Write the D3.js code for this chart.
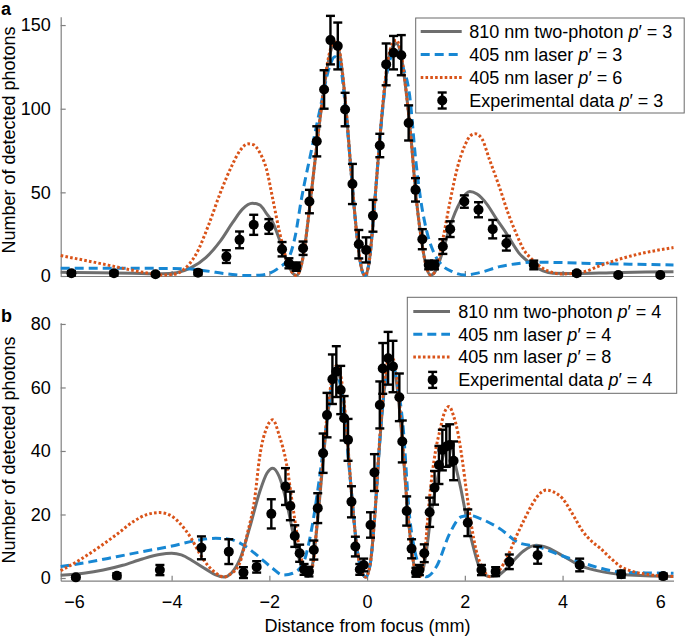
<!DOCTYPE html>
<html><head><meta charset="utf-8">
<script src="https://cdn.jsdelivr.net/npm/d3@7"></script>
<style>body{margin:0;background:#fff} text{font-family:"Liberation Sans",Arial,Helvetica,sans-serif;fill:#000}</style>
</head><body><svg id="c" width="685" height="637"></svg>
<script>
const xTicks=[-6,-4,-2,0,2,4,6];
const yTicksA=[0,50,100,150];
const yTicksB=[0,20,40,60,80];

// Panel a curves [distance, photons]
const a810=[[-6.27,2.2],[-5.5,2.0],[-4.8,1.6],[-4.2,1.3],[-3.9,2],[-3.6,5],[-3.3,11],[-3.0,21],[-2.75,32],[-2.55,40],[-2.35,43.5],[-2.2,42.5],[-2.05,37],[-1.93,32],[-1.79,21.5],[-1.65,9.6],[-1.52,1.6],[-1.45,0.3],[-1.38,3],[-1.3,13],[-1.18,40],[-1.03,78],[-0.9,108],[-0.78,130],[-0.67,139],[-0.57,134],[-0.45,106],[-0.32,60],[-0.2,22],[-0.1,3],[-0.04,0.3],[0.05,10],[0.15,42],[0.27,85],[0.4,122],[0.52,137],[0.6,139],[0.7,131],[0.8,110],[0.9,82],[1.0,48],[1.1,24],[1.2,7],[1.3,0.5],[1.4,3],[1.55,15],[1.7,30],[1.9,44],[2.1,50.5],[2.25,49],[2.45,43],[2.65,34],[2.85,25.5],[3.1,14],[3.39,6.6],[3.6,3],[3.8,1.6],[4.3,1.5],[5,2],[5.7,2.4],[6.27,2.6]];
const a405p3=[[-6.27,4.6],[-5,4.6],[-4,4.5],[-3.7,4.3],[-3.4,3.5],[-3.1,2.2],[-2.8,1],[-2.5,0.3],[-2.2,0.5],[-2.0,1.6],[-1.8,5],[-1.6,11],[-1.47,24],[-1.35,45],[-1.14,75],[-0.94,103],[-0.78,124],[-0.66,131],[-0.55,126],[-0.45,103],[-0.32,60],[-0.2,22],[-0.1,3],[-0.04,0.3],[0.05,10],[0.15,42],[0.27,85],[0.4,120],[0.52,133],[0.6,135],[0.72,126],[0.87,108],[1.0,68],[1.1,45],[1.21,28],[1.38,13],[1.55,6],[1.75,2.5],[2.0,0.6],[2.3,2],[2.71,5.6],[3.1,7.5],[3.39,8.3],[4,8],[4.76,7.4],[5.5,7],[6.27,6.6]];
const a405p6=[[-6.27,12.2],[-5.8,9.5],[-5.3,6.5],[-4.9,4],[-4.5,1.8],[-4.2,0.6],[-3.95,1],[-3.75,4],[-3.5,13],[-3.25,30],[-3.0,50],[-2.75,67],[-2.6,75],[-2.44,79],[-2.33,78.5],[-2.2,74],[-2.06,64],[-1.93,46],[-1.79,26],[-1.65,10],[-1.52,1.6],[-1.45,0.3],[-1.38,3],[-1.3,13],[-1.18,40],[-1.03,78],[-0.9,109],[-0.78,132],[-0.67,140],[-0.57,135],[-0.45,106],[-0.32,60],[-0.2,22],[-0.1,3],[-0.04,0.3],[0.05,10],[0.15,42],[0.27,86],[0.4,124],[0.52,139],[0.6,141],[0.7,132],[0.8,110],[0.9,82],[1.0,48],[1.1,24],[1.2,7],[1.3,0.5],[1.4,3],[1.55,22],[1.7,45],[1.85,65],[2.0,78],[2.12,84],[2.22,85],[2.35,82],[2.5,70],[2.71,53],[2.88,38],[3.05,25.5],[3.2,16],[3.39,9.6],[3.6,4.5],[3.8,2],[4.0,1.2],[4.2,1.5],[4.48,2.8],[4.75,6],[5.1,9.5],[5.4,12],[5.78,14.5],[6.27,17]];
// Panel a experimental data
const aDist=[-6.05,-5.18,-4.33,-3.46,-2.88,-2.61,-2.32,-2.01,-1.74,-1.6,-1.45,-1.31,-1.18,-1.03,-0.88,-0.75,-0.6,-0.45,-0.3,-0.17,-0.02,0.12,0.26,0.39,0.54,0.7,0.85,0.99,1.13,1.26,1.38,1.55,1.7,1.99,2.28,2.57,2.85,3.41,4.29,5.14,6.0];
const aCount=[1.6,1.6,1.0,2,11.6,21.6,30.6,29.6,16,7.6,5.6,16.6,44.5,80.5,111.5,141,137.5,99.5,55,19,15.6,36,78,126.5,133.5,132,91.5,51.5,22,6.6,6.6,17.6,28,44.5,39.6,28,19.6,6.6,1.6,0.6,0.6];
const aErr=[1.3,1.3,1,1.4,3.8,5,6,4.4,4.3,3,2.5,4,7,9,11.5,14.5,14,10,12,8.5,7.5,9.5,7,12.5,10,12,10.5,7,6,2.6,2.6,4.4,4.7,3.7,4.5,5.5,4.4,2.6,1.3,0.8,0.8];

// Panel b curves
const b810=[[-6.27,0.9],[-5.8,1.5],[-5.4,2.5],[-5,4],[-4.6,6],[-4.25,7.4],[-4.0,7.8],[-3.8,7.3],[-3.55,5.2],[-3.3,2.8],[-3.1,1],[-2.93,0.3],[-2.78,1.5],[-2.6,6],[-2.4,16],[-2.2,27],[-2.05,33],[-1.93,34.6],[-1.8,32],[-1.65,24],[-1.5,13],[-1.38,5.5],[-1.28,1],[-1.2,0.5],[-1.12,4],[-1.02,17],[-0.9,37],[-0.8,52],[-0.7,62],[-0.62,65],[-0.52,60],[-0.42,46],[-0.32,27],[-0.22,11],[-0.12,2.5],[-0.03,0.3],[0.06,4],[0.15,18],[0.25,41],[0.35,59],[0.45,67],[0.53,67],[0.63,58],[0.72,43],[0.82,23],[0.92,8],[1.02,1],[1.1,1],[1.2,7],[1.3,19],[1.45,32],[1.6,40],[1.72,41.5],[1.8,36],[1.92,28],[2.03,19.3],[2.17,10],[2.31,3],[2.5,0.5],[2.65,0.6],[2.8,2.2],[3.0,5.5],[3.2,8.5],[3.46,10.3],[3.7,9.5],[4.0,7],[4.35,4],[4.8,2],[5.2,1.1],[5.7,0.7],[6.27,0.5]];
const b405p4=[[-6.27,3.6],[-5.7,5],[-5.13,6.7],[-4.6,8.3],[-4.04,9.9],[-3.43,12],[-3.1,12.5],[-2.88,12.4],[-2.6,11],[-2.4,9],[-2.2,6.5],[-1.93,3],[-1.72,0.9],[-1.52,1.5],[-1.31,4.6],[-1.14,15],[-0.97,32],[-0.83,48.7],[-0.72,61],[-0.65,64.5],[-0.55,61],[-0.45,48],[-0.32,27],[-0.22,11],[-0.12,2.5],[-0.03,0.3],[0.06,4],[0.15,18],[0.25,41],[0.35,59],[0.45,66],[0.53,66.5],[0.62,61],[0.73,48.7],[0.87,19.3],[0.97,9],[1.07,3.6],[1.21,0.4],[1.42,3.6],[1.69,14],[1.93,19.3],[2.1,19.7],[2.3,18.8],[2.71,15.6],[3.12,11],[3.49,9.9],[3.9,7.5],[4.35,5.1],[4.8,3],[5.2,1.8],[5.7,1.6],[6.27,1.5]];
const b405p8=[[-6.27,2.3],[-5.9,5.5],[-5.47,9.9],[-5.1,14],[-4.79,17.7],[-4.5,20],[-4.24,20.6],[-4.0,19.5],[-3.83,17.2],[-3.6,12.5],[-3.43,7.8],[-3.25,3.8],[-3.09,1.5],[-2.93,0.3],[-2.8,1.2],[-2.61,4.6],[-2.45,14],[-2.3,25],[-2.2,38],[-2.05,47.5],[-1.93,49.8],[-1.8,45],[-1.65,36],[-1.52,22.5],[-1.38,8.8],[-1.26,1.5],[-1.18,1],[-1.1,5],[-1.02,18],[-0.9,38],[-0.8,54],[-0.7,64],[-0.62,67],[-0.52,62],[-0.42,47],[-0.32,27],[-0.22,11],[-0.12,2.5],[-0.03,0.3],[0.06,4],[0.15,18],[0.25,42],[0.35,61],[0.45,69],[0.53,69],[0.63,60],[0.72,44],[0.82,23],[0.92,8],[1.0,1.5],[1.08,0.5],[1.18,8],[1.28,25.6],[1.4,40],[1.49,46.5],[1.58,52],[1.68,54],[1.77,51],[1.86,45.6],[1.95,37],[2.03,27.7],[2.13,17],[2.23,8.8],[2.37,3],[2.51,0.4],[2.71,2.5],[2.88,7],[3.05,13],[3.22,18.5],[3.39,23.5],[3.55,26.8],[3.67,27.7],[3.8,27.2],[4.0,25],[4.21,20],[4.4,15],[4.6,11.5],[4.76,9.5],[5.0,6],[5.17,3.8],[5.45,2],[5.8,1],[6.27,0.5]];
// Panel b experimental data
const bDist=[-5.96,-5.12,-4.24,-3.39,-2.83,-2.53,-2.26,-1.96,-1.67,-1.57,-1.48,-1.38,-1.29,-1.19,-1.09,-1.01,-0.90,-0.82,-0.71,-0.63,-0.54,-0.47,-0.39,-0.32,-0.24,-0.15,-0.07,0.07,0.15,0.26,0.32,0.43,0.53,0.66,0.72,0.81,0.91,1.00,1.07,1.17,1.28,1.38,1.47,1.54,1.62,1.69,1.77,2.06,2.34,2.63,2.91,3.49,4.35,5.20,6.06];
const bCount=[0.2,0.7,2.5,9.5,8.3,1.7,3.5,20.2,28.8,22.7,13.2,7.8,2.7,2.0,8.8,22,39.3,51.3,62.6,65,59.2,50.3,43.5,24,9.9,2.7,4.1,16.7,33.2,54.5,66,69.2,66.6,56.9,43,21.1,9.2,1.8,2.5,7.8,20.7,28.4,35.6,40.3,41.4,41.9,36.9,17.4,2.5,2,5.1,7.2,4.1,1.2,0.6];
const bErr=[0.5,0.8,1.6,3.6,3.9,1.7,1.8,4.6,5.8,4.5,3.4,2.7,1.7,1.5,3,4.7,6.2,7,7.8,8,7.6,7,6.6,4.9,3.1,1.7,2,4,5.8,7.4,8,8.3,8.1,7.5,6.6,4.6,3,1.4,1.6,2.8,4.6,5.3,6,6.4,6.4,6.5,6.1,4.2,1.6,1.4,2.3,2.7,2,1.1,0.8];

const legendNames=["810 nm two-photon ","405 nm laser ","405 nm laser ","Experimental data "];
const legendPA=[3,3,6,3];
const legendPB=[4,4,8,4];

const GRAY="#6e6e6e", BLUE="#1787d3", ORANGE="#d95319", AX="#808080";
const styles=[{c:GRAY,w:3,d:null},{c:BLUE,w:3,d:"9 5"},{c:ORANGE,w:3,d:"2.6 2.2"}];

const svg=d3.select("#c");
const x=d3.scaleLinear().domain([-6.27,6.27]).range([60.7,673.5]);
const yA=d3.scaleLinear().domain([0,155]).range([276,16.7]);
const yB=d3.scaleLinear().domain([-0.85,80.4]).range([580.7,322.7]);

function drawPanel(y, curves, dist, count, err, yTicks, showXLabels, leg, pvals){
  const g=svg.append("g");
  const ya=d3.axisLeft(y).tickValues(yTicks).tickSizeInner(-5).tickSizeOuter(0).tickPadding(10);
  const yg=g.append("g").attr("transform",`translate(${x.range()[0]},0)`).call(ya);
  const xa=d3.axisBottom(x).tickValues(xTicks).tickSizeInner(-5).tickSizeOuter(0).tickPadding(14.5)
    .tickFormat(showXLabels? (d=>d<0?"\u2212"+Math.abs(d):String(d)) : ()=>"");
  const xg=g.append("g").attr("transform",`translate(0,${y.range()[0]})`).call(xa);
  [yg,xg].forEach(a=>{
    a.select(".domain").attr("stroke",AX).attr("stroke-width",1.2);
    a.selectAll(".tick line").attr("stroke",AX).attr("stroke-width",1.2);
    a.selectAll(".tick text").attr("font-size",18).attr("fill","#000")
      .style("font-family",'"Liberation Sans",Arial,sans-serif');
  });
  const line=d3.line().x(d=>x(d[0])).y(d=>y(d[1])).curve(d3.curveMonotoneX);
  curves.forEach((pts,i)=>{
    const s=styles[i];
    g.append("path").attr("d",line(pts)).attr("fill","none").attr("stroke",s.c)
      .attr("stroke-width",s.w).attr("stroke-dasharray",s.d);
  });
  const dg=g.append("g");
  dist.forEach((d,i)=>{
    const cx=x(d), y1=y(count[i]-err[i]), y2=y(count[i]+err[i]);
    dg.append("line").attr("x1",cx).attr("x2",cx).attr("y1",y1).attr("y2",y2).attr("stroke","#000").attr("stroke-width",2.4);
    [y1,y2].forEach(yy=>dg.append("line").attr("x1",cx-4.5).attr("x2",cx+4.5).attr("y1",yy).attr("y2",yy).attr("stroke","#000").attr("stroke-width",2.4));
    dg.append("circle").attr("cx",cx).attr("cy",y(count[i])).attr("r",5).attr("fill","#000");
  });
  const lg=g.append("g");
  lg.append("rect").attr("x",leg.x).attr("y",leg.y).attr("width",leg.w).attr("height",leg.h)
    .attr("fill","#fff").attr("stroke","#6a6a6a").attr("stroke-width",1);
  legendNames.forEach((name,i)=>{
    const cy=leg.y0+i*leg.dy;
    if(i<3){
      const s=styles[i];
      lg.append("line").attr("x1",leg.l1).attr("x2",leg.l2).attr("y1",cy).attr("y2",cy)
        .attr("stroke",s.c).attr("stroke-width",s.w).attr("stroke-dasharray",s.d);
    } else {
      const cx=(leg.l1+leg.l2)/2+1;
      lg.append("line").attr("x1",cx).attr("x2",cx).attr("y1",cy-8).attr("y2",cy+8).attr("stroke","#000").attr("stroke-width",2.4);
      [cy-8,cy+8].forEach(yy=>lg.append("line").attr("x1",cx-4.5).attr("x2",cx+4.5).attr("y1",yy).attr("y2",yy).attr("stroke","#000").attr("stroke-width",2.4));
      lg.append("circle").attr("cx",cx).attr("cy",cy).attr("r",5).attr("fill","#000");
    }
    const t=lg.append("text").attr("x",leg.tx).attr("y",cy).attr("dy","0.35em").attr("font-size",18);
    t.append("tspan").text(name);
    t.append("tspan").attr("font-style","italic").text("p");
    t.append("tspan").text("\u2032 = "+pvals[i]);
  });
  return g;
}

drawPanel(yA,[a810,a405p3,a405p6],aDist,aCount,aErr,yTicksA,false,
  {x:415.7,y:18,w:268.5,h:95,y0:31.5,dy:23,l1:420.7,l2:461.7,tx:469.3},legendPA);
drawPanel(yB,[b810,b405p4,b405p8],bDist,bCount,bErr,yTicksB,true,
  {x:407.3,y:297.3,w:269.4,h:96,y0:311.5,dy:22.8,l1:413.3,l2:450,tx:458.3},legendPB);

svg.append("text").attr("transform","translate(15,140) rotate(-90)").attr("text-anchor","middle").attr("font-size",18).text("Number of detected photons");
svg.append("text").attr("transform","translate(15,450) rotate(-90)").attr("text-anchor","middle").attr("font-size",18).text("Number of detected photons");
svg.append("text").attr("x",367.5).attr("y",632).attr("text-anchor","middle").attr("font-size",18).text("Distance from focus (mm)");
svg.append("text").attr("x",1).attr("y",15).attr("font-size",18).attr("font-weight","bold").text("a");
svg.append("text").attr("x",1).attr("y",322).attr("font-size",18).attr("font-weight","bold").text("b");
</script></body></html>
